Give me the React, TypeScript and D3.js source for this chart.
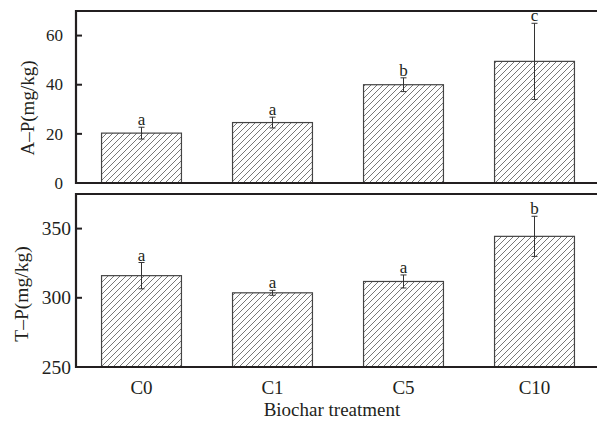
import React from "react";
import * as d3 from "d3";

const categories = ["C0", "C1", "C5", "C10"];
const apValues = [20.3, 24.6, 40.0, 49.5];
const apErrors = [2.4, 2.2, 2.8, 15.5];
const apLetters = ["a", "a", "b", "c"];
const apTicks = [0, 20, 40, 60];
const tpValues = [316.0, 303.6, 311.8, 344.4];
const tpErrors = [9.5, 1.8, 4.7, 14.5];
const tpLetters = ["a", "a", "a", "b"];
const tpTicks = [250, 300, 350];

const W = 597;
const H = 423;
const LEFT = 76;
const RIGHT = 597;
const FONT = "'Liberation Serif', 'DejaVu Serif', serif";
const AXIS = "#231f20";

type PanelProps = {
  values: number[];
  errors: number[];
  letters: string[];
  ticks: number[];
  domain: [number, number];
  top: number;
  bottom: number;
  label: string;
  labelX: number;
  labelY: number;
  tickFont: number;
  tickEnd: number;
  labelFont: number;
};

const x = d3
  .scaleBand<string>()
  .domain(categories)
  .range([LEFT, 600])
  .paddingInner(0.39)
  .paddingOuter(0.195);

function Panel(p: PanelProps) {
  const y = d3.scaleLinear().domain(p.domain).range([p.bottom, p.top]);
  return (
    <g>
      {categories.map((c, i) => {
        const x0 = x(c)!;
        const bw = x.bandwidth();
        const cx = x0 + bw / 2;
        const yv = y(p.values[i]);
        const yHi = y(p.values[i] + p.errors[i]);
        const yLo = y(p.values[i] - p.errors[i]);
        return (
          <g key={c}>
            <rect
              x={x0}
              y={yv}
              width={bw}
              height={p.bottom - yv}
              fill="url(#hatch)"
              stroke="#444"
              strokeWidth={1.2}
            />
            <line x1={cx} x2={cx} y1={yHi} y2={yLo} stroke="#333" strokeWidth={1} />
            <line x1={cx - 3} x2={cx + 3} y1={yHi} y2={yHi} stroke="#333" strokeWidth={1} />
            <line x1={cx - 3} x2={cx + 3} y1={yLo} y2={yLo} stroke="#333" strokeWidth={1} />
            <text
              x={cx}
              y={yHi - 2}
              textAnchor="middle"
              fontFamily={FONT}
              fontSize={17}
              fill="#231f20"
            >
              {p.letters[i]}
            </text>
          </g>
        );
      })}
      {p.ticks.map((t) => (
        <g key={t}>
          <line x1={LEFT} x2={LEFT + 6} y1={y(t)} y2={y(t)} stroke={AXIS} strokeWidth={2} />
          <text
            x={p.tickEnd}
            y={y(t)}
            dy="0.34em"
            textAnchor="end"
            fontFamily={FONT}
            fontSize={p.tickFont}
            fill="#231f20"
          >
            {t}
          </text>
        </g>
      ))}
      <path
        d={`M${RIGHT},${p.top}H${LEFT}V${p.bottom}H${RIGHT}`}
        fill="none"
        stroke={AXIS}
        strokeWidth={2.2}
      />
      <text
        transform={`translate(${p.labelX},${p.labelY}) rotate(-90)`}
        textAnchor="middle"
        dy="0.33em"
        fontFamily={FONT}
        fontSize={p.labelFont}
        fill="#231f20"
      >
        {p.label}
      </text>
    </g>
  );
}

export default function App() {
  return (
    <svg width={W} height={H} style={{ display: "block", position: "absolute", left: 0, top: 0 }}>
      <defs>
        <pattern id="hatch" patternUnits="userSpaceOnUse" width={6} height={6}>
          <path
            d="M-1,1 L1,-1 M0,6 L6,0 M5,7 L7,5"
            stroke="#555"
            strokeWidth={0.8}
          />
        </pattern>
      </defs>
      <rect width={W} height={H} fill="#fff" />
      <Panel
        values={apValues}
        errors={apErrors}
        letters={apLetters}
        ticks={apTicks}
        domain={[0, 70]}
        top={11}
        bottom={183}
        label="A–P(mg/kg)"
        labelX={28}
        labelY={108}
        tickFont={17}
        tickEnd={63}
        labelFont={19}
      />
      <Panel
        values={tpValues}
        errors={tpErrors}
        letters={tpLetters}
        ticks={tpTicks}
        domain={[250, 375]}
        top={194}
        bottom={367}
        label="T–P(mg/kg)"
        labelX={22}
        labelY={294}
        tickFont={19.5}
        tickEnd={71}
        labelFont={19.5}
      />
      {categories.map((c) => (
        <text
          key={c}
          x={x(c)! + x.bandwidth() / 2}
          y={388}
          dy="0.34em"
          textAnchor="middle"
          fontFamily={FONT}
          fontSize={19}
          fill="#231f20"
        >
          {c}
        </text>
      ))}
      <text
        x={332}
        y={416}
        textAnchor="middle"
        fontFamily={FONT}
        fontSize={19}
        fill="#231f20"
      >
        Biochar treatment
      </text>
    </svg>
  );
}
